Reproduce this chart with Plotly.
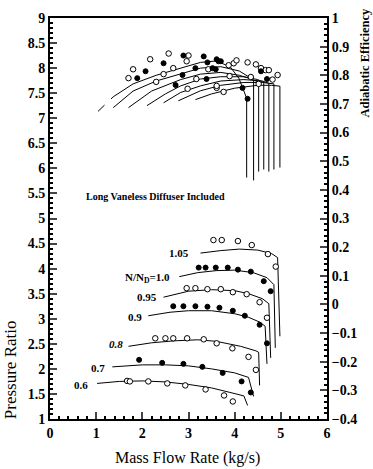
import plotly.graph_objects as go

# ---------------- data ----------------
speeds = ["0.6", "0.7", "0.8", "0.9", "0.95", "1.0", "1.05"]

# pressure-ratio speed lines (mass flow kg/s, pressure ratio)
pr_line_m = {
    "0.6": [1.02, 1.5, 2.0, 2.5, 3.0, 3.5, 3.9, 4.2, 4.28],
    "0.7": [1.35, 2.0, 2.5, 3.0, 3.5, 4.0, 4.3, 4.41],
    "0.8": [1.7, 2.2, 2.7, 3.2, 3.6, 4.13, 4.46, 4.52, 4.54],
    "0.9": [2.13, 2.6, 3.0, 3.5, 4.0, 4.3, 4.55, 4.66, 4.70],
    "0.95": [2.46, 3.0, 3.5, 4.0, 4.3, 4.6, 4.74, 4.78],
    "1.0": [2.8, 3.2, 3.6, 4.0, 4.4, 4.7, 4.85, 4.88],
    "1.05": [3.26, 3.7, 4.1, 4.5, 4.8, 4.93, 4.98],
}
pr_line_v = {
    "0.6": [1.71, 1.75, 1.76, 1.74, 1.69, 1.62, 1.53, 1.46, 1.27],
    "0.7": [2.04, 2.08, 2.08, 2.06, 2.00, 1.92, 1.83, 1.45],
    "0.8": [2.45, 2.52, 2.56, 2.58, 2.55, 2.45, 2.36, 2.33, 1.67],
    "0.9": [3.06, 3.13, 3.16, 3.16, 3.10, 3.03, 2.93, 2.85, 2.10],
    "0.95": [3.43, 3.55, 3.58, 3.56, 3.50, 3.40, 3.30, 2.22],
    "1.0": [3.84, 3.92, 3.96, 3.97, 3.92, 3.82, 3.68, 2.42],
    "1.05": [4.31, 4.36, 4.39, 4.37, 4.30, 4.22, 2.65],
}

# measured pressure-ratio points
pr_pts_m = {
    "0.6": [1.67, 1.73, 2.13, 2.54, 2.93, 3.37, 3.77, 3.96],
    "0.7": [1.93, 2.43, 2.89, 3.30, 3.74, 4.15, 4.35],
    "0.8": [2.28, 2.50, 2.67, 2.97, 3.33, 3.61, 3.95, 4.30, 4.46],
    "0.9": [2.67, 2.89, 3.15, 3.41, 3.67, 3.96, 4.22, 4.54, 4.70],
    "0.95": [2.96, 3.15, 3.41, 3.70, 3.96, 4.26, 4.54, 4.70],
    "1.0": [3.22, 3.37, 3.59, 3.85, 4.07, 4.35, 4.63, 4.78],
    "1.05": [3.54, 3.72, 4.07, 4.37, 4.72, 4.89],
}
pr_pts_v = {
    "0.6": [1.76, 1.75, 1.75, 1.71, 1.67, 1.59, 1.47, 1.35],
    "0.7": [2.18, 2.12, 2.10, 2.04, 1.92, 1.75, 1.53],
    "0.8": [2.61, 2.61, 2.61, 2.61, 2.59, 2.51, 2.41, 2.24, 1.98],
    "0.9": [3.25, 3.25, 3.25, 3.24, 3.22, 3.16, 3.06, 2.88, 2.51],
    "0.95": [3.61, 3.61, 3.59, 3.59, 3.53, 3.49, 3.33, 3.02],
    "1.0": [4.02, 4.02, 4.02, 4.02, 3.98, 3.94, 3.75, 3.55],
    "1.05": [4.57, 4.57, 4.55, 4.47, 4.29, 4.04],
}
filled_speeds = ["0.7", "0.9", "1.0"]

# efficiency speed lines
eff_line_m = {
    "0.6": [1.37, 1.8, 2.3, 2.83, 3.26, 3.6, 3.9, 4.09, 4.17, 4.26, 4.26],
    "0.7": [1.37, 1.8, 2.3, 2.83, 3.26, 3.7, 4.1, 4.3, 4.41, 4.41],
    "0.8": [1.70, 2.2, 2.83, 3.26, 3.7, 4.1, 4.4, 4.52, 4.52],
    "0.9": [2.10, 2.5, 2.83, 3.26, 3.7, 4.2, 4.5, 4.63, 4.63],
    "0.95": [2.46, 2.83, 3.26, 3.7, 4.2, 4.6, 4.74, 4.74],
    "1.0": [2.78, 3.26, 3.7, 4.2, 4.6, 4.85, 4.85],
    "1.05": [3.15, 3.5, 4.0, 4.5, 4.8, 4.98, 4.98],
}
eff_line_v = {
    "0.6": [0.725, 0.77, 0.80, 0.825, 0.845, 0.85, 0.83, 0.79, 0.756, 0.72, 0.443],
    "0.7": [0.687, 0.745, 0.78, 0.804, 0.825, 0.83, 0.815, 0.795, 0.78, 0.433],
    "0.8": [0.687, 0.745, 0.785, 0.804, 0.81, 0.80, 0.785, 0.775, 0.464],
    "0.9": [0.694, 0.735, 0.763, 0.787, 0.795, 0.795, 0.785, 0.775, 0.471],
    "0.95": [0.704, 0.74, 0.763, 0.78, 0.785, 0.78, 0.772, 0.464],
    "1.0": [0.711, 0.746, 0.765, 0.775, 0.775, 0.77, 0.471],
    "1.05": [0.715, 0.735, 0.755, 0.765, 0.765, 0.762, 0.478],
}
eff_dash_m = [1.04, 1.37]
eff_dash_v = [0.674, 0.725]

eff_open_m = [1.70, 1.80, 2.17, 2.30, 2.46, 2.57, 2.67, 2.96, 2.98, 3.00, 3.17, 3.43,
              3.61, 3.61, 3.76, 3.87, 3.89, 3.98, 4.04, 4.28, 4.35, 4.46, 4.52, 4.57,
              4.67, 4.74, 4.93, 4.82]
eff_open_v = [0.790, 0.821, 0.856, 0.777, 0.804, 0.876, 0.825, 0.849, 0.753, 0.869, 0.787, 0.821,
              0.756, 0.763, 0.742, 0.835, 0.797, 0.842, 0.852, 0.845, 0.794, 0.838, 0.770, 0.825,
              0.818, 0.818, 0.801, 0.785]
eff_fill_m = [1.89, 2.07, 2.46, 2.72, 2.87, 2.89, 3.15, 3.33, 3.39, 3.41, 3.52, 3.59, 3.61,
              3.65, 3.70, 4.17, 4.28, 4.57, 4.70]
eff_fill_v = [0.79, 0.814, 0.842, 0.766, 0.801, 0.869, 0.825, 0.866, 0.787, 0.845, 0.825, 0.821,
              0.856, 0.849, 0.849, 0.756, 0.718, 0.814, 0.787]

label_text = {"0.6": "0.6", "0.7": "0.7", "0.8": "<i>0.8</i>", "0.9": "0.9",
              "0.95": "0.95", "1.0": "N/N<sub>D</sub>=1.0", "1.05": "1.05"}
label_m = {"0.6": 0.67, "0.7": 1.04, "0.8": 1.43, "0.9": 1.85, "0.95": 2.11, "1.0": 2.11, "1.05": 2.80}
label_pr = {"0.6": 1.67, "0.7": 2.02, "0.8": 2.49, "0.9": 3.04, "0.95": 3.43, "1.0": 3.82, "1.05": 4.31}

# ---------------- figure ----------------
SERIF = "Liberation Serif"
fig = go.Figure()
line_style = dict(color="black", width=1)

for s in speeds:
    fig.add_trace(go.Scatter(x=pr_line_m[s], y=pr_line_v[s], mode="lines",
                             line=line_style, yaxis="y", hoverinfo="skip"))
    fig.add_trace(go.Scatter(x=eff_line_m[s], y=eff_line_v[s], mode="lines",
                             line=line_style, yaxis="y2", hoverinfo="skip"))

fig.add_trace(go.Scatter(x=eff_dash_m, y=eff_dash_v, mode="lines",
                         line=dict(color="black", width=1, dash="dash"), yaxis="y2"))

for s in speeds:
    filled = s in filled_speeds
    fig.add_trace(go.Scatter(
        x=pr_pts_m[s], y=pr_pts_v[s], mode="markers", yaxis="y",
        marker=dict(symbol="circle", size=5.5 if not filled else 5,
                    color="black" if filled else "white",
                    line=dict(color="black", width=1))))

fig.add_trace(go.Scatter(x=eff_open_m, y=eff_open_v, mode="markers", yaxis="y2",
                         marker=dict(symbol="circle", size=5.5, color="white",
                                     line=dict(color="black", width=1))))
fig.add_trace(go.Scatter(x=eff_fill_m, y=eff_fill_v, mode="markers", yaxis="y2",
                         marker=dict(symbol="circle", size=5, color="black",
                                     line=dict(color="black", width=1))))

annotations = []
for s in speeds:
    annotations.append(dict(x=label_m[s], y=label_pr[s], xref="x", yref="y",
                            text="<b>" + label_text[s] + "</b>", showarrow=False,
                            xanchor="center", yanchor="middle",
                            font=dict(family=SERIF, size=11, color="black")))
annotations.append(dict(x=2.28, y=5.43, xref="x", yref="y",
                        text="<b>Long Vaneless Diffuser Included</b>", showarrow=False,
                        xanchor="center", yanchor="middle",
                        font=dict(family=SERIF, size=10, color="black")))
annotations.append(dict(x=-0.144, y=0.122, xref="paper", yref="paper", text="Pressure Ratio",
                        textangle=-90, showarrow=False, xanchor="center", yanchor="middle",
                        font=dict(family=SERIF, size=17, color="black")))
annotations.append(dict(x=1.137, y=0.889, xref="paper", yref="paper",
                        text="<b>Adiabatic Efficiency</b>",
                        textangle=-90, showarrow=False, xanchor="center", yanchor="middle",
                        font=dict(family=SERIF, size=12.5, color="black")))
annotations.append(dict(x=0.498, y=-0.098, xref="paper", yref="paper", text="Mass Flow Rate (kg/s)",
                        showarrow=False, xanchor="center", yanchor="middle",
                        font=dict(family=SERIF, size=16, color="black")))

tickfont = dict(family=SERIF, size=14, color="black", weight="bold")

fig.update_layout(
    width=373, height=469,
    margin=dict(l=50, r=46, t=11, b=50),
    paper_bgcolor="white", plot_bgcolor="white",
    showlegend=False,
    annotations=annotations,
    xaxis=dict(range=[0, 6], dtick=1, tick0=0, ticks="inside", ticklen=7, tickwidth=2,
               showline=True, linewidth=2, linecolor="black", mirror=True,
               showgrid=False, zeroline=False, tickfont=tickfont,
               minor=dict(ticks="inside", ticklen=3, dtick=0.2, tickcolor="black", showgrid=False)),
    yaxis=dict(range=[1, 9], dtick=0.5, tick0=1, ticks="inside", ticklen=7, tickwidth=2,
               showline=True, linewidth=2, linecolor="black",
               showgrid=False, zeroline=False, tickfont=tickfont,
               minor=dict(ticks="inside", ticklen=3, dtick=0.1, tickcolor="black", showgrid=False)),
    yaxis2=dict(range=[-0.4, 1], dtick=0.1, tick0=0, overlaying="y", side="right",
                ticks="inside", ticklen=7, tickwidth=2,
                showline=True, linewidth=2, linecolor="black",
                showgrid=False, zeroline=False, tickfont=tickfont,
                minor=dict(ticks="inside", ticklen=3, dtick=0.02, tickcolor="black", showgrid=False)),
)

fig.write_html("out.html")
